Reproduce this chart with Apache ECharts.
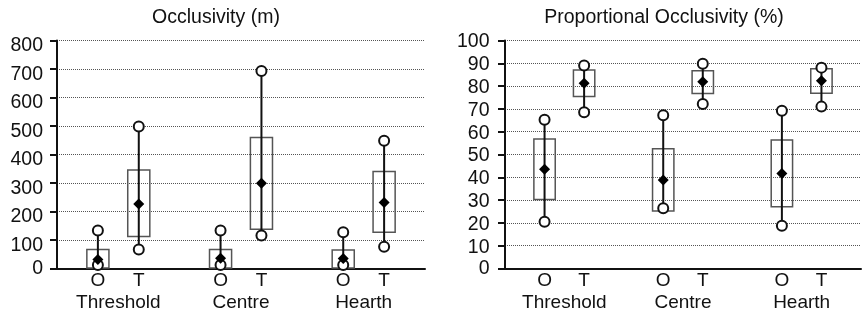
<!DOCTYPE html>
<html>
<head>
<meta charset="utf-8">
<script src="https://cdn.jsdelivr.net/npm/echarts@6/dist/echarts.min.js"></script>
<style>
  html, body { margin: 0; padding: 0; background: #fff; }
  #chart { width: 864px; height: 314px; }
</style>
</head>
<body>
<div id="chart"></div>
<script>
// order: Threshold O, Threshold T, Centre O, Centre T, Hearth O, Hearth T
const groups = ['Threshold', 'Centre', 'Hearth'];
const subLabels = ['O', 'T'];
const xPos = [1, 2, 4, 5, 7, 8];
const groupPos = [1.5, 4.5, 7.5];

// Occlusivity (m)
const occMin = [12, 67, 12, 116, 12, 76];
const occQ1 = [2, 112, 2, 138, 2, 127];
const occMean = [32, 226, 36, 299, 35, 232];
const occQ3 = [67, 346, 67, 460, 65, 340];
const occMax = [133, 498, 133, 693, 127, 448];

// Proportional Occlusivity (%)
const propMin = [20.5, 68.5, 26.4, 72.2, 18.7, 71];
const propQ1 = [30.3, 75.4, 25.2, 76.7, 27.1, 76.9];
const propMean = [43.5, 81.3, 38.8, 81.9, 41.7, 82.4];
const propQ3 = [56.8, 87.1, 52.5, 86.7, 56.4, 87.6];
const propMax = [65.2, 89, 67.2, 89.8, 69.2, 88.1];

const font = 'Liberation Sans, Arial, sans-serif';
const fs = 19;

function subLabel(v) {
  const i = xPos.indexOf(Math.round(v));
  return i < 0 || Math.abs(v - xPos[i]) > 0.01 ? '' : subLabels[i % 2];
}
function groupLabel(v) {
  for (let i = 0; i < groupPos.length; i++) {
    if (Math.abs(v - groupPos[i]) < 0.01) return groups[i];
  }
  return '';
}

function xAxes(gi) {
  return [
    {
      gridIndex: gi, type: 'value', min: 0, max: 9, interval: 1,
      splitLine: { show: false },
      axisTick: { show: false },
      axisLine: { show: true, onZero: false, lineStyle: { color: '#111', width: 2 } },
      axisLabel: {
        show: true, margin: 3, color: '#111', fontSize: fs, fontFamily: font,
        showMinLabel: true, showMaxLabel: true,
        formatter: subLabel
      }
    },
    {
      gridIndex: gi, type: 'value', min: 0, max: 9, interval: 1.5,
      position: 'bottom', offset: 21.5,
      splitLine: { show: false },
      axisTick: { show: false },
      axisLine: { show: false },
      axisLabel: {
        show: true, margin: 3, color: '#111', fontSize: fs, fontFamily: font,
        formatter: groupLabel
      }
    }
  ];
}

function yAxis(gi, max, interval, margin, shiftDown) {
  return {
    gridIndex: gi, type: 'value', min: 0, max: max, interval: interval,
    axisLine: { show: true, lineStyle: { color: '#111', width: 2 } },
    axisTick: { show: true, length: 7, lineStyle: { color: '#111', width: 2 } },
    axisLabel: {
      margin: margin,
      formatter: v => (v === 0 ? '{b|0}' : '{a|' + v + '}'),
      rich: {
        a: { color: '#111', fontSize: 19.5, fontFamily: font, padding: [shiftDown * 2, 0, 0, 0] },
        b: { color: '#111', fontSize: 19.5, fontFamily: font }
      }
    },
    splitLine: { show: true, lineStyle: { color: '#555', width: 1, type: [1, 1] } }
  };
}

function boxSeries(xi, yi, q1, q3, mn, mx) {
  return {
    type: 'custom',
    xAxisIndex: xi, yAxisIndex: yi,
    data: xPos.map((x, i) => [x, q1[i], q3[i], mn[i], mx[i]]),
    renderItem: function (params, api) {
      const x = api.value(0);
      const pLo = api.coord([x, api.value(1)]);
      const pHi = api.coord([x, api.value(2)]);
      const pMin = api.coord([x, api.value(3)]);
      const pMax = api.coord([x, api.value(4)]);
      const half = api.size([1, 0])[0] * 0.27;
      return {
        type: 'group',
        children: [
          {
            type: 'rect',
            shape: { x: pHi[0] - half, y: pHi[1], width: half * 2, height: pLo[1] - pHi[1] },
            style: { fill: 'none', stroke: '#555', lineWidth: 1.5 }
          },
          {
            type: 'line',
            shape: { x1: pMin[0], y1: pMin[1], x2: pMax[0], y2: pMax[1] },
            style: { stroke: '#111', lineWidth: 2 }
          }
        ]
      };
    },
    z: 3
  };
}

function circleSeries(xi, yi, vals) {
  return {
    type: 'scatter', xAxisIndex: xi, yAxisIndex: yi,
    symbol: 'circle', symbolSize: 10,
    itemStyle: { color: '#fff', borderColor: '#111', borderWidth: 2, opacity: 1 },
    data: xPos.map((x, i) => [x, vals[i]]),
    z: 4
  };
}

function meanSeries(xi, yi, vals) {
  return {
    type: 'scatter', xAxisIndex: xi, yAxisIndex: yi,
    symbol: 'diamond', symbolSize: 11,
    itemStyle: { color: '#000', opacity: 1 },
    data: xPos.map((x, i) => [x, vals[i]]),
    z: 5
  };
}

const chart = echarts.init(document.getElementById('chart'), null, { renderer: 'canvas' });
chart.setOption({
  animation: false,
  backgroundColor: '#fff',
  graphic: [
    { type: 'text', x: 216, y: 18, style: { text: 'Occlusivity (m)', align: 'center', verticalAlign: 'middle', font: '19.5px ' + font, fill: '#111' } },
    { type: 'text', x: 664, y: 18, style: { text: 'Proportional Occlusivity (%)', align: 'center', verticalAlign: 'middle', font: '19.5px ' + font, fill: '#111' } }
  ],
  grid: [
    { left: 57, top: 40.5, width: 368, height: 228 },
    { left: 505, top: 40.5, width: 369, height: 228 }
  ],
  xAxis: [].concat(xAxes(0), xAxes(1)),
  yAxis: [yAxis(0, 800, 100, 14, 5.5), yAxis(1, 100, 10, 15.5, 1.5)],
  series: [
    boxSeries(0, 0, occQ1, occQ3, occMin, occMax),
    circleSeries(0, 0, occMin),
    circleSeries(0, 0, occMax),
    meanSeries(0, 0, occMean),
    boxSeries(2, 1, propQ1, propQ3, propMin, propMax),
    circleSeries(2, 1, propMin),
    circleSeries(2, 1, propMax),
    meanSeries(2, 1, propMean)
  ]
});
</script>
</body>
</html>
